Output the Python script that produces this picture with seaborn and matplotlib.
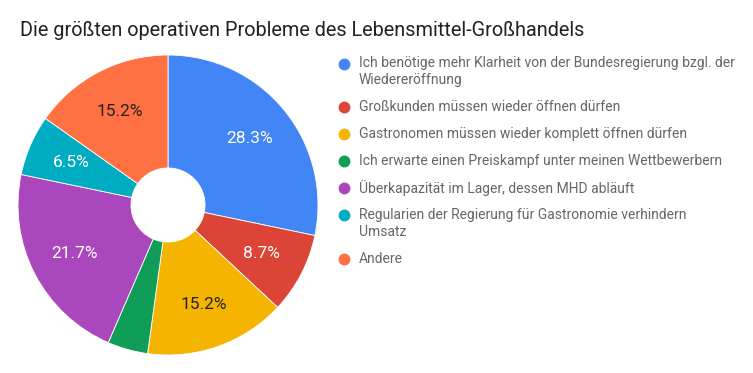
import matplotlib
matplotlib.use("Agg")
import matplotlib.pyplot as plt
import seaborn as sns
from matplotlib.lines import Line2D

categories = [
    "Ich benötige mehr Klarheit von der Bundesregierung bzgl. der\nWiedereröffnung",
    "Großkunden müssen wieder öffnen dürfen",
    "Gastronomen müssen wieder komplett öffnen dürfen",
    "Ich erwarte einen Preiskampf unter meinen Wettbewerbern",
    "Überkapazität im Lager, dessen MHD abläuft",
    "Regularien der Regierung für Gastronomie verhindern\nUmsatz",
    "Andere",
]
values = [13, 4, 7, 2, 10, 3, 7]
colors = ["#4285F4", "#DB4437", "#F4B400", "#0F9D58", "#AB47BC", "#00ACC1", "#FF7043"]
label_colors = ["white", "white", "#222222", "white", "white", "white", "#222222"]
title = "Die größten operativen Probleme des Lebensmittel-Großhandels"

sns.set_theme(style="white")
plt.rcParams["font.family"] = ["Roboto", "DejaVu Sans"]

W, H = 753, 373
fig = plt.figure(figsize=(W / 100, H / 100), dpi=100)
fig.patch.set_facecolor("white")

cx, cy, r = 168, 205, 150
ax = fig.add_axes([(cx - r) / W, (H - cy - r) / H, 2 * r / W, 2 * r / H])
palette = sns.color_palette(colors)

def fmt(p):
    return f"{p:.1f}%" if p >= 5 else ""

wedges, texts, autotexts = ax.pie(
    values,
    colors=palette,
    startangle=90,
    counterclock=False,
    autopct=fmt,
    pctdistance=0.705,
    radius=1.0,
    wedgeprops=dict(width=1 - 0.247, edgecolor="white", linewidth=0.6),
    textprops=dict(fontsize=12.5),
)
for t, c in zip(autotexts, label_colors):
    t.set_color(c)
ax.set_xlim(-1, 1)
ax.set_ylim(-1, 1)
ax.set_aspect("equal")
ax.axis("off")

fig.text(20 / W, 1 - 30 / H, title, fontsize=14.3, color="#212121", va="center", ha="left")

# legend
y = 63.5
for lab, col in zip(categories, colors):
    fig.add_artist(Line2D([344 / W], [1 - y / H], marker="o", markersize=7.5,
                          color=col, linestyle="none", transform=fig.transFigure))
    lines = lab.split("\n")
    for i, ln in enumerate(lines):
        fig.text(359 / W, 1 - (y + 16.5 * i) / H, ln, fontsize=10, color="#666666",
                 va="center", ha="left")
    y += 27.1 + 16.5 * (len(lines) - 1)

fig.savefig("out.png", dpi=100, facecolor="white")
